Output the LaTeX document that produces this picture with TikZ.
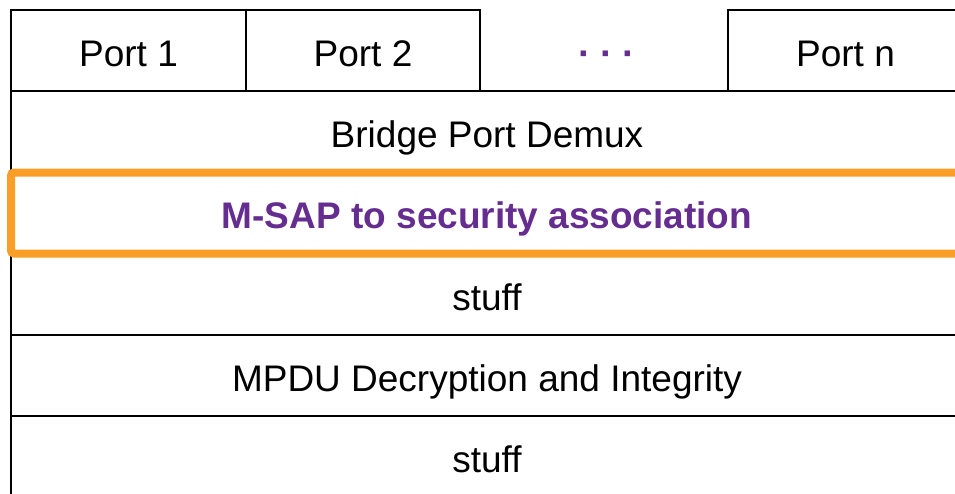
\documentclass[tikz,border=0pt]{standalone}
\usepackage{fontspec}
\setmainfont{Liberation Sans}
\definecolor{layerpurple}{RGB}{102,45,145}
\definecolor{frameorange}{RGB}{250,158,40}
\begin{document}
\begin{tikzpicture}[x=1pt,y=-1pt,
  cell/.style={draw=black, line width=2.8pt, rectangle, inner sep=0pt,
    minimum height=81pt, text height=31pt, text depth=0pt,
    font=\fontsize{37}{44}\selectfont},
  portcell/.style={cell, minimum width=235pt},
  layer/.style={cell, minimum width=952pt},
  gapcell/.style={cell, draw=none, minimum width=248pt, text=layerpurple,
    font=\fontsize{38}{44}\selectfont\bfseries},
  highlight/.style={layer, draw=frameorange, line width=8pt, rounded corners=3pt,
    text=layerpurple, font=\fontsize{37}{44}\selectfont\bfseries}]
  \clip (0,0) rectangle (955,493);

  % port row
  \node[portcell] (port1) at (128.5,50.5) {Port 1};
  \node[portcell, minimum width=234pt] (port2) at (363,50.5) {Port 2};
  \node[gapcell] (portdots) at (607,50.5)
    {\makebox[22pt]{·}\makebox[22pt]{·}\makebox[22pt]{·}};
  \node[portcell] (portn) at (845.5,50.5) {Port n};

  % layer stack
  \node[layer] (demux) at (487,131.5) {Bridge Port Demux};
  \node[layer] (stuffa) at (487,294.5) {stuff};
  \node[layer] (mpdu) at (487,375.5) {MPDU Decryption and Integrity};
  \node[layer] (stuffb) at (487,456.5) {stuff};

  % highlighted layer drawn on top of its neighbours' borders
  \node[highlight] (msap) at (487,213) {M-SAP to security association};
\end{tikzpicture}
\end{document}
